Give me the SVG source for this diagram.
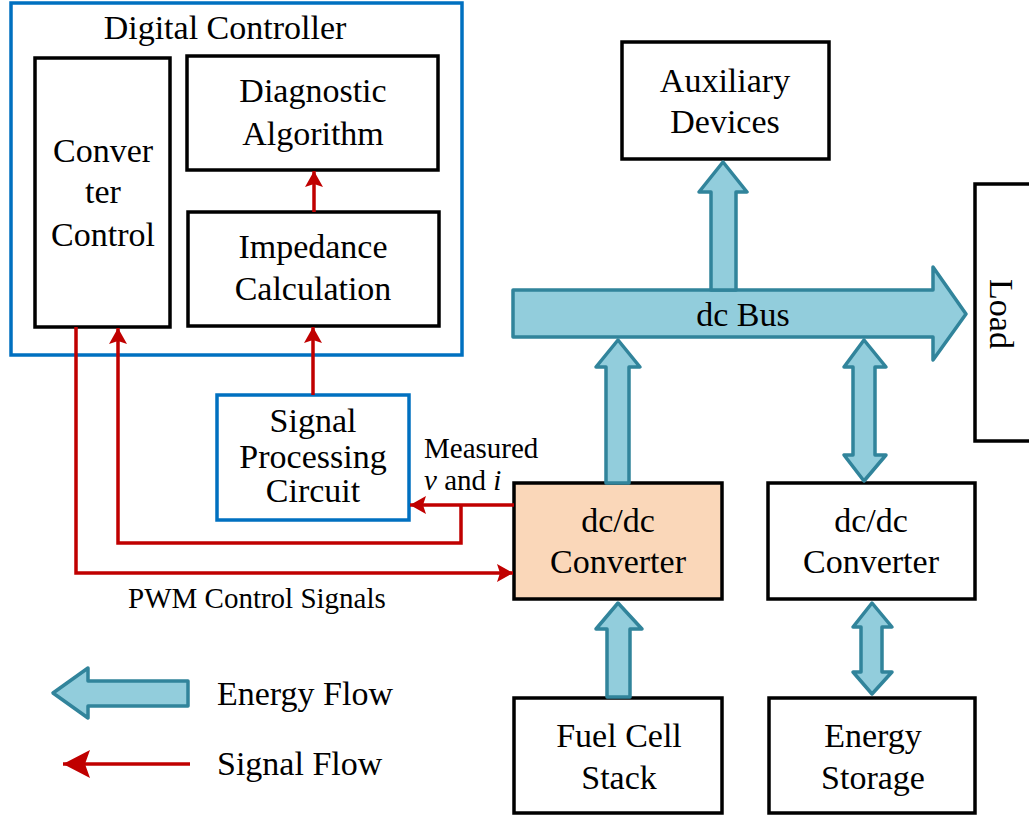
<svg xmlns="http://www.w3.org/2000/svg" width="1029" height="818" viewBox="0 0 1029 818" font-family="'Liberation Serif', 'DejaVu Serif', serif">
  <style>
    text { font-family: 'Liberation Serif', 'DejaVu Serif', serif; fill: #000; }
    .t { font-size: 34px; text-anchor: middle; }
    .tl { font-size: 34px; text-anchor: start; }
    .ts { font-size: 29px; }
    .box { fill: #fff; stroke: #000; stroke-width: 3.5; }
    .blue { fill: #fff; stroke: #0070C0; stroke-width: 3.5; }
    .conv { fill: #FAD7B9; stroke: #000; stroke-width: 3.5; }
    .flow { fill: #92CDDC; stroke: #31849B; stroke-width: 3.5; stroke-linejoin: round; }
    .sig { fill: none; stroke: #C00000; stroke-width: 3.5; }
  </style>
  <defs>
    <marker id="arr" markerUnits="userSpaceOnUse" markerWidth="18" markerHeight="18" refX="16" refY="9" orient="auto">
      <path d="M0,0 L16,9 L0,18 L3,9 z" fill="#C00000"/>
    </marker>
    <marker id="arrBig" markerUnits="userSpaceOnUse" markerWidth="28" markerHeight="28" refX="27" refY="14" orient="auto">
      <path d="M0,0 L27,14 L0,28 L5,14 z" fill="#C00000"/>
    </marker>
  </defs>

  <!-- Digital controller enclosure -->
  <g id="digital-controller">
    <rect class="blue" x="11" y="3" width="451" height="352"/>
    <text class="t" x="225" y="39">Digital Controller</text>
  </g>

  <g id="converter-control">
    <rect class="box" x="35" y="58" width="135" height="269"/>
    <text class="t" x="103" y="162">Conver</text>
    <text class="t" x="103" y="203">ter</text>
    <text class="t" x="103" y="246">Control</text>
  </g>

  <g id="diagnostic-algorithm">
    <rect class="box" x="187" y="56" width="251" height="114"/>
    <text class="t" x="313" y="102">Diagnostic</text>
    <text class="t" x="313" y="145">Algorithm</text>
  </g>

  <g id="impedance-calculation">
    <rect class="box" x="188" y="212" width="251" height="114"/>
    <text class="t" x="313" y="258">Impedance</text>
    <text class="t" x="313" y="300">Calculation</text>
  </g>

  <g id="signal-processing">
    <rect class="blue" x="217" y="395" width="192" height="125"/>
    <text class="t" x="313" y="432">Signal</text>
    <text class="t" x="313" y="468">Processing</text>
    <text class="t" x="313" y="502">Circuit</text>
  </g>

  <g id="auxiliary-devices">
    <rect class="box" x="622" y="42" width="207" height="117"/>
    <text class="t" x="725" y="92">Auxiliary</text>
    <text class="t" x="725" y="133">Devices</text>
  </g>

  <g id="load">
    <rect class="box" x="975" y="184" width="70" height="257"/>
    <text class="t" transform="translate(990,314) rotate(90)" x="0" y="0">Load</text>
  </g>

  <g id="fc-converter">
    <rect class="conv" x="514" y="483" width="208" height="116"/>
    <text class="t" x="618" y="532">dc/dc</text>
    <text class="t" x="618" y="573">Converter</text>
  </g>

  <g id="es-converter">
    <rect class="box" x="768" y="483" width="207" height="116"/>
    <text class="t" x="871" y="532">dc/dc</text>
    <text class="t" x="871" y="573">Converter</text>
  </g>

  <g id="fuel-cell-stack">
    <rect class="box" x="514" y="698" width="208" height="115"/>
    <text class="t" x="619" y="747">Fuel Cell</text>
    <text class="t" x="619" y="789">Stack</text>
  </g>

  <g id="energy-storage">
    <rect class="box" x="769" y="698" width="206" height="115"/>
    <text class="t" x="873" y="747">Energy</text>
    <text class="t" x="873" y="789">Storage</text>
  </g>

  <!-- Energy flow arrows -->
  <g id="energy-flows">
    <path id="dc-bus" class="flow" d="M513,290 L933,290 L933,267 L966,314 L933,360 L933,337 L513,337 z"/>
    <text class="t" x="743" y="326">dc Bus</text>
    <path class="flow" d="M711,290 L711,192 L699,192 L723,162 L747,192 L736,192 L736,290 z"/>
    <path class="flow" d="M606,483 L606,367 L596,367 L618,340 L640,367 L629,367 L629,483 z"/>
    <path class="flow" d="M853,367 L844,367 L864,340 L886,367 L875,367 L875,455 L886,455 L864,481 L844,455 L853,455 z"/>
    <path class="flow" d="M607,697 L607,629 L596,629 L618,603 L642,629 L630,629 L630,697 z"/>
    <path class="flow" d="M861,627 L853,627 L872,603 L892,627 L882,627 L882,672 L892,672 L872,694 L853,672 L861,672 z"/>
  </g>

  <!-- Signal connectors -->
  <g id="signal-flows">
    <line class="sig" x1="314" y1="212" x2="314" y2="171" marker-end="url(#arr)"/>
    <line class="sig" x1="313" y1="395" x2="313" y2="327" marker-end="url(#arr)"/>
    <line class="sig" x1="514" y1="505" x2="410" y2="505" marker-end="url(#arr)"/>
    <polyline class="sig" points="461,505 461,543 118,543 118,328" marker-end="url(#arr)"/>
    <polyline class="sig" points="76,327 76,573 513,573" marker-end="url(#arr)"/>
    <text class="ts" x="424" y="458">Measured</text>
    <text class="ts" x="424" y="490"><tspan font-style="italic">v</tspan> and <tspan font-style="italic">i</tspan></text>
    <text class="ts" x="128" y="608">PWM Control Signals</text>
  </g>

  <!-- Legend -->
  <g id="legend">
    <path class="flow" d="M188,681 L88,681 L88,668 L53,693 L88,718 L88,706 L188,706 z"/>
    <text class="tl" x="217" y="705">Energy Flow</text>
    <line class="sig" x1="190" y1="764" x2="63" y2="764" marker-end="url(#arrBig)"/>
    <text class="tl" x="217" y="775">Signal Flow</text>
  </g>
</svg>
